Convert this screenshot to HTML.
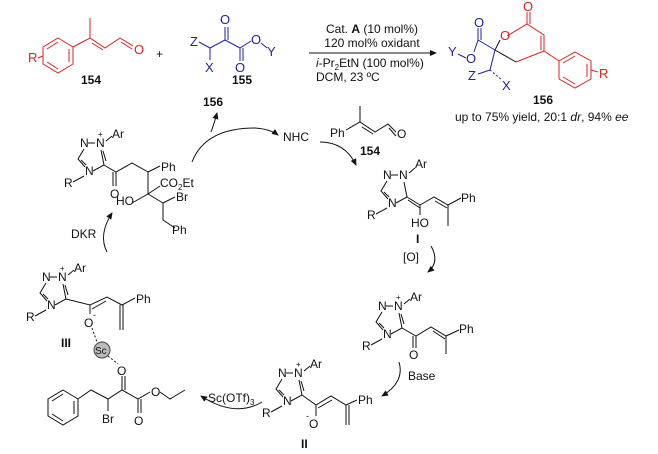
<!DOCTYPE html>
<html><head><meta charset="utf-8"><style>
body{margin:0;background:#fff}
svg{display:block}
text{font-family:"Liberation Sans",Arial,sans-serif;font-size:12px;fill:#111}
.b{font-weight:bold}
.r text{fill:#d22}.bl text{fill:#229}
line,polyline,path,polygon,circle{stroke:#111;stroke-width:1;fill:none}
.r line,.r polyline,.r polygon{stroke:#d22}
.bl line,.bl polyline{stroke:#22a}
</style></head><body>
<svg width="658" height="454" viewBox="0 0 658 454">
<defs><marker id="a" markerWidth="8" markerHeight="8" refX="6" refY="3" orient="auto"><path d="M0,0 L7,3 L0,6 z" style="fill:#111;stroke:none"/></marker></defs>

<!-- 154 -->
<g class="r">
<polygon points="58,38 73,47 73,64 58,73 43,64 43,47"/>
<line x1="47" y1="49" x2="58" y2="42"/><line x1="69" y1="49" x2="69" y2="62"/><line x1="47" y1="62" x2="58" y2="69"/>
<polyline points="73,47 90,38 105,48 120,38 133,46"/>
<line x1="90" y1="38" x2="90" y2="18"/><line x1="92" y1="43" x2="103" y2="50"/><line x1="121" y1="42" x2="132" y2="49"/>
<line x1="38" y1="58" x2="43" y2="56"/>
<text x="28" y="62" style="font-size:13px">R</text><text x="134" y="54" style="font-size:13px">O</text>
</g>
<text x="91" y="84" class="b" text-anchor="middle">154</text>
<text x="156" y="58" style="font-size:12px">+</text>
<!-- 155 -->
<g class="bl">
<text x="190" y="46" style="font-size:13px">Z</text><text x="205" y="72" style="font-size:13px">X</text>
<text x="220" y="24" style="font-size:13px">O</text><text x="235" y="72" style="font-size:13px">O</text>
<text x="251" y="44" style="font-size:13px">O</text><text x="267" y="56" style="font-size:13px">Y</text>
<polyline points="199,42 210,48 225,40 240,48 251,41"/>
<line x1="210" y1="48" x2="210" y2="60"/><line x1="225" y1="40" x2="225" y2="27"/><line x1="228" y1="40" x2="228" y2="27"/>
<line x1="240" y1="48" x2="240" y2="61"/><line x1="243" y1="48" x2="243" y2="61"/><line x1="261" y1="43" x2="267" y2="48"/>
</g>
<text x="242" y="84" class="b" text-anchor="middle">155</text>
<!-- conditions -->
<text x="372" y="33" text-anchor="middle">Cat. <tspan class="b">A</tspan> (10 mol%)</text>
<text x="372" y="47" text-anchor="middle">120 mol% oxidant</text>
<line x1="309" y1="53" x2="436" y2="53" marker-end="url(#a)"/>
<text x="316" y="67"><tspan font-style="italic">i</tspan>-Pr<tspan font-size="8" dy="3">2</tspan><tspan dy="-3">EtN (100 mol%)</tspan></text>
<text x="316" y="81">DCM, 23 ºC</text>
<!-- product 156 -->
<g class="r">
<polyline points="507,36 527,24 544,35 544,51 516,62"/>
<line x1="527" y1="24" x2="527" y2="12"/><line x1="530" y1="24" x2="530" y2="12"/>
<line x1="541" y1="36" x2="541" y2="50"/><line x1="544" y1="51" x2="559" y2="61"/>
<polygon points="559,61 575,52 591,61 591,79 575,88 559,79"/>
<line x1="563" y1="63" x2="575" y2="56"/><line x1="587" y1="64" x2="587" y2="77"/><line x1="563" y1="77" x2="575" y2="84"/>
<line x1="591" y1="70" x2="598" y2="72"/>
<text x="523" y="11" style="font-size:13px">O</text><text x="500" y="40" style="font-size:13px">O</text><text x="599" y="78" style="font-size:13px">R</text>
</g>
<line x1="495" y1="50" x2="516" y2="62"/>
<line x1="495" y1="50" x2="500" y2="40"/>
<g class="bl">
<polyline points="495,50 478,40 474,52"/>
<line x1="478" y1="40" x2="478" y2="28"/><line x1="481" y1="40" x2="481" y2="28"/>
<line x1="495" y1="50" x2="490" y2="70"/><line x1="490" y1="70" x2="478" y2="74"/><line x1="490" y1="70" x2="502" y2="80" stroke-dasharray="2,2"/>
<line x1="466" y1="58" x2="458" y2="54"/>
<text x="474" y="27" style="font-size:13px">O</text><text x="466" y="63" style="font-size:13px">O</text><text x="448" y="56" style="font-size:13px">Y</text>
<text x="468" y="80" style="font-size:13px">Z</text><text x="502" y="90" style="font-size:13px">X</text>
</g>
<text x="543" y="104" class="b" text-anchor="middle">156</text>
<text x="455" y="121">up to 75% yield, 20:1 <tspan font-style="italic">dr</tspan>, 94% <tspan font-style="italic">ee</tspan></text>

<!-- label 156 and cycle top arrows -->
<text x="213" y="106" class="b" text-anchor="middle">156</text>
<path d="M192,162 Q205,128 255,128 Q270,129 278,135" marker-end="url(#a)"/>
<path d="M211,132 Q214,124 217,113" marker-end="url(#a)"/>
<text x="283" y="141">NHC</text>
<!-- small 154 -->
<text x="330" y="137">Ph</text>
<polyline points="346,130 360,122 375,132 388,124 396,132"/>
<line x1="360" y1="122" x2="360" y2="106"/><line x1="362" y1="127" x2="373" y2="134"/><line x1="389" y1="128" x2="396" y2="136"/>
<text x="397" y="138">O</text>
<text x="370" y="155" class="b" text-anchor="middle">154</text>
<path d="M320,142 Q345,142 356,165" marker-end="url(#a)"/>

<!-- Intermediate top-left -->
<g transform="translate(100,143)">
<text x="-20" y="4">N</text><text x="-4" y="4">N</text><text x="-2" y="-6" style="font-size:8px">+</text><text x="12" y="-5">Ar</text>
<line x1="-12" y1="0" x2="-5" y2="0"/><line x1="6" y1="-2" x2="12" y2="-7"/>
<polyline points="-16,6 -22,16 -15,24"/><line x1="-19" y1="17" x2="-14" y2="22"/>
<text x="-15" y="32">N</text><text x="-36" y="44">R</text><line x1="-16" y1="33" x2="-27" y2="39"/>
<polyline points="-7,28 4,22 1,7"/><line x1="6" y1="18" x2="3" y2="8"/>
</g>
<polyline points="104,165 116,172 132,163 148,172 148,194 132,203"/>
<line x1="116" y1="172" x2="116" y2="186"/><line x1="113" y1="172" x2="113" y2="186"/>
<line x1="148" y1="172" x2="160" y2="166"/><line x1="148" y1="194" x2="160" y2="186"/>
<polyline points="148,194 163,203 163,220 175,228"/><line x1="163" y1="203" x2="175" y2="197"/>
<text x="110" y="198">O</text><text x="161" y="171">Ph</text>
<text x="160" y="187">CO<tspan font-size="8" dy="3">2</tspan><tspan dy="-3">Et</tspan></text>
<text x="116" y="205">HO</text><text x="176" y="201">Br</text><text x="172" y="234">Ph</text>
<!-- DKR -->
<text x="71" y="238">DKR</text>
<path d="M107,252 Q98,235 112,213" marker-end="url(#a)"/>

<!-- Intermediate I -->
<g transform="translate(403,175)">
<text x="-20" y="4">N</text><text x="-4" y="4">N</text><text x="12" y="-7">Ar</text>
<line x1="-12" y1="0" x2="-5" y2="0"/><line x1="6" y1="-2" x2="12" y2="-7"/>
<polyline points="-16,6 -22,16 -15,24"/><line x1="-19" y1="17" x2="-14" y2="22"/>
<text x="-15" y="32">N</text><text x="-36" y="44">R</text><line x1="-16" y1="33" x2="-27" y2="39"/>
<polyline points="-7,28 4,22 1,7"/>
</g>
<line x1="407" y1="197" x2="420" y2="205"/><line x1="408" y1="200" x2="420" y2="208"/>
<polyline points="420,205 434,197 448,205 461,198"/><line x1="435" y1="201" x2="447" y2="208"/>
<line x1="448" y1="205" x2="448" y2="226"/><line x1="420" y1="205" x2="420" y2="215"/>
<text x="461" y="202">Ph</text><text x="411" y="227">HO</text>
<text x="416" y="243" class="b">I</text><text x="403" y="261">[O]</text>
<path d="M431,246 Q440,262 428,272" marker-end="url(#a)"/>

<!-- acyl azolium -->
<g transform="translate(398,306)">
<text x="-20" y="4">N</text><text x="-4" y="4">N</text><text x="-2" y="-6" style="font-size:8px">+</text><text x="12" y="-5">Ar</text>
<line x1="-12" y1="0" x2="-5" y2="0"/><line x1="6" y1="-2" x2="12" y2="-7"/>
<polyline points="-16,6 -22,16 -15,24"/><line x1="-19" y1="17" x2="-14" y2="22"/>
<text x="-15" y="32">N</text><text x="-36" y="44">R</text><line x1="-16" y1="33" x2="-27" y2="39"/>
<polyline points="-7,28 4,22 1,7"/><line x1="6" y1="18" x2="3" y2="8"/>
</g>
<polyline points="402,328 416,336 431,327 446,336 459,330"/>
<line x1="416" y1="336" x2="416" y2="348"/><line x1="413" y1="336" x2="413" y2="348"/>
<line x1="433" y1="331" x2="445" y2="339"/><line x1="446" y1="336" x2="446" y2="354"/>
<text x="409" y="359">O</text><text x="459" y="333">Ph</text>
<text x="408" y="380">Base</text>
<path d="M399,362 Q405,382 382,396" marker-end="url(#a)"/>

<!-- II -->
<g transform="translate(298,373)">
<text x="-20" y="4">N</text><text x="-4" y="4">N</text><text x="-2" y="-6" style="font-size:8px">+</text><text x="12" y="-5">Ar</text>
<line x1="-12" y1="0" x2="-5" y2="0"/><line x1="6" y1="-2" x2="12" y2="-7"/>
<polyline points="-16,6 -22,16 -15,24"/><line x1="-19" y1="17" x2="-14" y2="22"/>
<text x="-15" y="32">N</text><text x="-36" y="44">R</text><line x1="-16" y1="33" x2="-27" y2="39"/>
<polyline points="-7,28 4,22 1,7"/><line x1="6" y1="18" x2="3" y2="8"/>
</g>
<polyline points="302,395 316,405 331,396 346,405 357,400"/>
<line x1="318" y1="408" x2="332" y2="400"/>
<line x1="316" y1="405" x2="316" y2="416"/>
<line x1="346" y1="405" x2="346" y2="425"/><line x1="349" y1="405" x2="349" y2="425"/>
<text x="309" y="428">O</text><text x="306" y="419" style="font-size:9px">-</text><text x="358" y="404">Ph</text>
<text x="301" y="448" class="b">II</text>
<text x="208" y="402">Sc(OTf)<tspan font-size="8" dy="3">3</tspan></text>
<path d="M262,402 Q235,418 201,396" marker-end="url(#a)"/>

<!-- III -->
<g transform="translate(62,277)">
<text x="-20" y="4">N</text><text x="-4" y="4">N</text><text x="-2" y="-6" style="font-size:8px">+</text><text x="12" y="-5">Ar</text>
<line x1="-12" y1="0" x2="-5" y2="0"/><line x1="6" y1="-2" x2="12" y2="-7"/>
<polyline points="-16,6 -22,16 -15,24"/><line x1="-19" y1="17" x2="-14" y2="22"/>
<text x="-15" y="32">N</text><text x="-36" y="44">R</text><line x1="-16" y1="33" x2="-27" y2="39"/>
<polyline points="-7,28 4,22 1,7"/><line x1="6" y1="18" x2="3" y2="8"/>
</g>
<polyline points="66,299 90,305 107,297 122,305 135,298"/>
<line x1="92" y1="309" x2="106" y2="301"/>
<line x1="90" y1="305" x2="90" y2="314"/>
<line x1="120" y1="305" x2="120" y2="330"/><line x1="123" y1="305" x2="123" y2="330"/>
<text x="136" y="303">Ph</text>
<text x="84" y="327">O</text><text x="93" y="318" style="font-size:9px">-</text>
<text x="61" y="347" class="b">III</text>
<line x1="92" y1="328" x2="97" y2="342" stroke-dasharray="2,2"/>
<circle cx="102" cy="350" r="8" style="fill:#bbb;stroke:#444"/>
<text x="95" y="354" style="font-size:10px">Sc</text>
<line x1="108" y1="356" x2="118" y2="364" stroke-dasharray="2,2"/>
<text x="117" y="375">O</text>
<polygon points="63,390 78,399 78,416 63,425 48,416 48,399"/>
<line x1="52" y1="401" x2="63" y2="394"/><line x1="74" y1="401" x2="74" y2="414"/><line x1="52" y1="414" x2="63" y2="421"/>
<polyline points="78,399 91,390 108,399 122,390 138,399 150,392"/>
<line x1="108" y1="399" x2="108" y2="411"/><line x1="122" y1="390" x2="122" y2="376"/><line x1="125" y1="390" x2="125" y2="376"/>
<line x1="138" y1="399" x2="138" y2="413"/><line x1="141" y1="399" x2="141" y2="413"/>
<polyline points="160,392 170,399 185,390"/>
<text x="102" y="423">Br</text><text x="134" y="425">O</text><text x="151" y="396">O</text>
</svg>
</body></html>
